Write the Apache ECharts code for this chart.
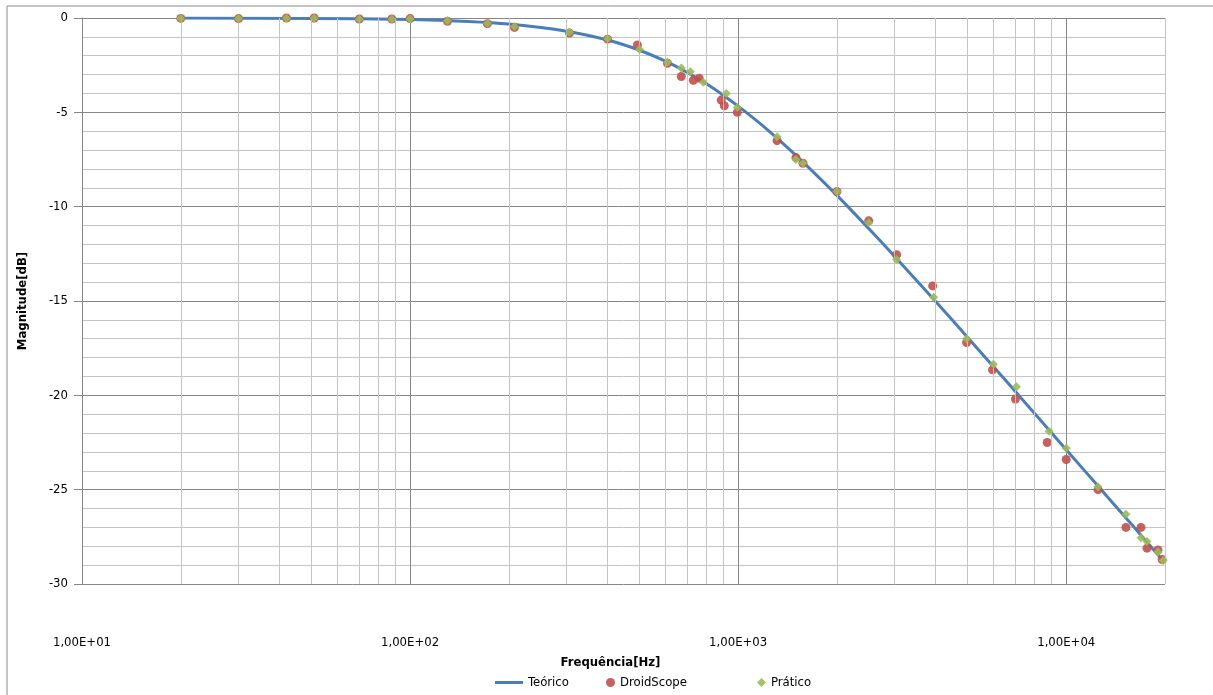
<!DOCTYPE html>
<html lang="pt">

<head>
    <meta charset="UTF-8">
    <title>Magnitude x Frequência</title>
    <style>
        html, body { margin: 0; padding: 0; background: #fff; }
        #main { width: 1213px; height: 695px; }
    </style>
</head>

<body>
    <div id="main"></div>

    <script src="https://cdn.jsdelivr.net/npm/echarts@6/dist/echarts.min.js"></script>
    <script>
        // curva teórica [Hz, dB]
        var teorico = [
            [20, 0], [50, -0.02], [100, -0.08], [150, -0.18], [200, -0.32], [300, -0.7],
            [400, -1.17], [500, -1.71], [600, -2.29], [700, -2.89], [800, -3.49], [900, -4.09],
            [1000, -4.67], [1200, -5.77], [1500, -7.28], [2000, -9.4], [2500, -11.16],
            [3000, -12.64], [4000, -15.03], [5000, -16.92], [6000, -18.48], [7000, -19.8],
            [8000, -20.95], [10000, -22.88], [12500, -24.81], [15000, -26.38], [17500, -27.72],
            [20000, -28.88]
        ]
        // medidas com o DroidScope
        var droidScope = [
            [20, -0.02], [30, -0.03], [42, 0], [51, 0], [70, -0.05], [88, -0.05], [100, -0.03],
            [130, -0.17], [172, -0.3], [208, -0.5], [306, -0.8], [400, -1.12], [493, -1.43],
            [609, -2.4], [671, -3.1], [730, -3.3], [761, -3.2], [888, -4.35], [907, -4.65],
            [994, -5.0], [1314, -6.5], [1500, -7.4], [1576, -7.7], [2000, -9.2], [2500, -10.75],
            [3040, -12.55], [3915, -14.2], [4970, -17.2], [5960, -18.65], [7000, -20.2],
            [8750, -22.5], [10000, -23.4], [12500, -25.0], [15200, -27.0], [16900, -27.0],
            [17630, -28.1], [19040, -28.2], [19600, -28.7]
        ]
        // medidas práticas
        var pratico = [
            [20, -0.02], [30, -0.02], [42, -0.01], [51, -0.01], [70, -0.06], [88, -0.06],
            [100, -0.05], [130, -0.15], [172, -0.28], [208, -0.45], [306, -0.75], [400, -1.1],
            [500, -1.65], [609, -2.35], [671, -2.65], [715, -2.85], [783, -3.4], [920, -4.0],
            [994, -4.75], [1314, -6.3], [1500, -7.5], [1576, -7.7], [2000, -9.2], [2500, -10.85],
            [3040, -12.8], [3945, -14.8], [4970, -17.0], [6000, -18.35], [7050, -19.55],
            [8870, -21.9], [10000, -22.8], [12500, -24.85], [15200, -26.3], [16900, -27.55],
            [17630, -27.75], [19040, -28.3], [19740, -28.75]
        ]
        // linhas secundárias da grade logarítmica
        var linhasMenores = [20, 30, 40, 50, 60, 70, 80, 90, 200, 300, 400, 500, 600, 700, 800, 900,
            2000, 3000, 4000, 5000, 6000, 7000, 8000, 9000, 20000]
        var fonte = '"Liberation Sans Narrow", "DejaVu Sans Condensed", sans-serif'
        var textoLegenda = { fontFamily: fonte, fontSize: 13, color: '#000' }

        var myChart = echarts.init(document.getElementById('main'))
        var option = {
            animation: false,
            backgroundColor: '#fff',
            graphic: [{
                type: 'rect',
                shape: { x: 7, y: 6, width: 1230, height: 720 },
                style: { fill: 'none', stroke: '#8a8a8a', lineWidth: 1 },
                silent: true
            }],
            grid: { left: 82, right: 48, top: 18, bottom: 111 },
            legend: [
                {
                    left: 490,
                    top: 671,
                    itemWidth: 28,
                    itemHeight: 3,
                    textStyle: textoLegenda,
                    data: [{ name: 'Teórico', icon: 'rect' }]
                },
                {
                    left: 601,
                    top: 671,
                    itemGap: 70,
                    itemWidth: 9,
                    itemHeight: 9,
                    textStyle: textoLegenda,
                    data: [
                        { name: 'DroidScope', icon: 'circle' },
                        { name: 'Prático', icon: 'diamond' }
                    ]
                }
            ],
            xAxis: {
                type: 'log',
                logBase: 10,
                min: 10,
                max: 20000,
                name: 'Frequência[Hz]',
                nameLocation: 'middle',
                nameGap: 72,
                nameTextStyle: {
                    fontFamily: fonte, fontSize: 13, fontWeight: 'bold', color: '#000',
                    padding: [0, 26, 0, 0]
                },
                axisLine: { show: true, lineStyle: { color: '#868686' } },
                axisTick: { show: false },
                axisLabel: {
                    margin: 52,
                    fontFamily: fonte,
                    fontSize: 13,
                    color: '#000',
                    formatter: function (v) {
                        var e = Math.round(Math.log10(v))
                        if (Math.abs(v - Math.pow(10, e)) > 1e-6 * v) return ''
                        return '1,00E+' + (e < 10 ? '0' : '') + e
                    }
                },
                splitLine: { show: true, lineStyle: { color: '#878787', width: 1 } }
            },
            yAxis: {
                type: 'value',
                min: -30,
                max: 0,
                interval: 5,
                name: 'Magnitude[dB]',
                nameLocation: 'middle',
                nameGap: 53,
                nameTextStyle: { fontFamily: fonte, fontSize: 13, fontWeight: 'bold', color: '#000' },
                axisLine: { show: true, lineStyle: { color: '#868686' } },
                axisTick: { show: true, length: 8, lineStyle: { color: '#868686' } },
                axisLabel: { margin: 14, fontFamily: fonte, fontSize: 13, color: '#000' },
                splitLine: { show: true, lineStyle: { color: '#878787', width: 1 } },
                minorTick: { show: false, splitNumber: 5 },
                minorSplitLine: { show: true, lineStyle: { color: '#c4c4c4', width: 1 } }
            },
            series: [
                {
                    // só para desenhar as linhas menores verticais
                    name: 'grade',
                    type: 'line',
                    data: [],
                    z: 0,
                    silent: true,
                    markLine: {
                        silent: true,
                        symbol: 'none',
                        label: { show: false },
                        lineStyle: { color: '#c4c4c4', width: 1, type: 'solid' },
                        data: linhasMenores.map(function (f) { return { xAxis: f } })
                    }
                },
                {
                    name: 'Teórico',
                    type: 'line',
                    data: teorico,
                    smooth: 0.3,
                    showSymbol: false,
                    z: 3,
                    lineStyle: { color: '#4a7ebb', width: 3 },
                    itemStyle: { color: '#4a7ebb' }
                },
                {
                    name: 'DroidScope',
                    type: 'scatter',
                    data: droidScope,
                    symbol: 'circle',
                    symbolSize: 9,
                    z: 4,
                    itemStyle: { color: '#c0504d', opacity: 0.9 }
                },
                {
                    name: 'Prático',
                    type: 'scatter',
                    data: pratico,
                    symbol: 'diamond',
                    symbolSize: 9,
                    z: 5,
                    itemStyle: { color: '#9bbb59', opacity: 0.9 }
                }
            ]
        }
        myChart.setOption(option)
    </script>
</body>

</html>
